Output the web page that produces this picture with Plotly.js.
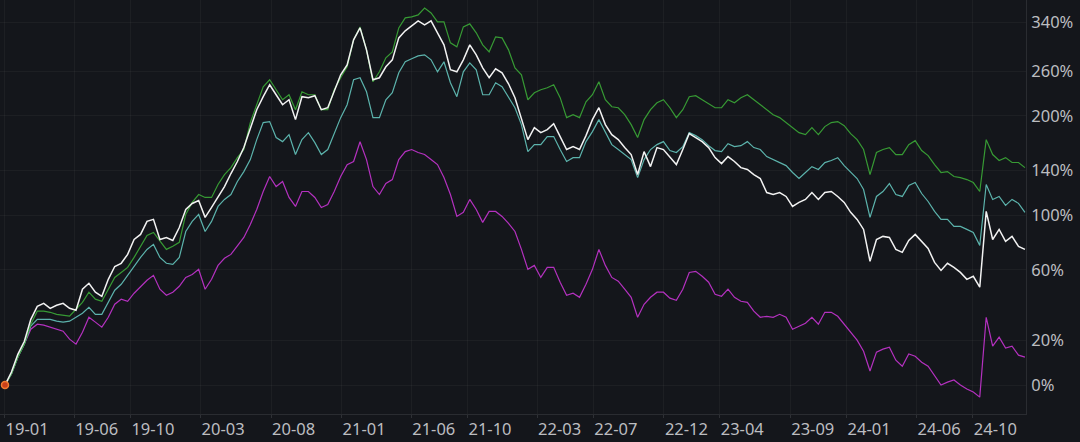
<!DOCTYPE html>
<html>
<head>
<meta charset="utf-8">
<script src="https://cdn.plot.ly/plotly-3.0.1.min.js"></script>
<style>
  html, body { margin: 0; padding: 0; background: #14161b; }
  #chart { width: 1080px; height: 442px; }
</style>
</head>
<body>
<div id="chart"></div>
<script>
// ---- data (cumulative return, %), sampled every 14 days from 2019-01-02 ----
const startDate = [2019, 0, 2];
const stepDays = 14;

const whiteSeries = [
  0, 5.5, 13.5, 19.6, 30.8, 37.9, 39.6, 36.8, 38.5, 39.6,
  36.8, 35.7, 47.9, 51.5, 46.1, 43.7, 54.0, 62.3, 64.4, 70.5,
  81.2, 85.0, 95.1, 96.7, 81.2, 82.7, 80.5, 90.3, 104.8, 109.9,
  112.5, 98.3, 106.5, 116.0, 124.9, 137.2, 149.1, 163.7, 183.8, 207.8,
  224.6, 240.8, 227.2, 214.1, 220.6, 195.6, 224.6, 223.3, 225.9, 207.8,
  210.3, 231.2, 255.0, 269.7, 309.4, 329.9, 293.0, 247.8, 250.7, 266.7,
  277.3, 312.7, 324.7, 333.4, 342.3, 335.2, 342.3, 321.3, 301.1, 262.3,
  259.3, 277.3, 301.1, 285.1, 265.2, 250.7, 263.7, 257.9, 242.2, 223.3,
  195.6, 172.4, 186.1, 180.3, 183.8, 190.8, 175.8, 161.6, 164.7, 161.6,
  176.9, 195.6, 210.3, 189.6, 178.0, 172.4, 163.7, 156.3, 136.2, 159.4,
  144.0, 163.7, 161.6, 153.1, 146.0, 161.6, 179.2, 174.7, 170.2, 163.7,
  153.1, 147.0, 154.2, 149.1, 143.0, 141.1, 136.2, 132.4, 119.5, 117.7,
  119.5, 116.0, 107.4, 110.8, 113.4, 119.5, 113.4, 119.5, 120.4, 116.0,
  110.8, 102.4, 96.7, 88.8, 65.7, 81.2, 83.5, 82.7, 74.0, 71.9,
  80.5, 85.0, 79.8, 74.7, 65.0, 59.7, 64.4, 61.7, 58.4, 54.0,
  55.9, 49.1, 103.2, 81.2, 88.8, 79.8, 83.5, 76.2, 74.0
];

const greenSeries = [
  0, 4.6, 12.1, 18.2, 28.2, 35.2, 35.2, 34.6, 33.5, 33.0,
  32.5, 36.3, 40.2, 46.1, 42.0, 40.8, 47.9, 55.2, 58.4, 61.7,
  68.4, 76.2, 84.2, 86.5, 79.8, 74.0, 76.2, 79.1, 100.7, 110.8,
  117.7, 115.1, 115.1, 126.8, 136.2, 143.0, 153.1, 161.6, 192.0, 214.1,
  238.0, 247.8, 233.9, 220.6, 227.2, 207.8, 231.2, 227.2, 227.2, 207.8,
  207.8, 233.9, 250.7, 266.7, 309.4, 331.6, 293.0, 245.0, 259.3, 280.4,
  289.8, 329.9, 347.8, 349.6, 353.3, 366.3, 356.9, 340.5, 340.5, 304.4,
  297.8, 331.6, 337.0, 321.3, 301.1, 289.8, 314.4, 312.7, 293.0, 265.2,
  255.0, 220.6, 229.9, 233.9, 236.7, 240.8, 223.3, 198.0, 201.6, 198.0,
  218.0, 227.2, 245.0, 220.6, 211.5, 210.3, 201.6, 189.6, 174.7, 195.6,
  207.8, 216.7, 220.6, 210.3, 198.0, 207.8, 224.6, 225.9, 220.6, 215.4,
  210.3, 210.3, 220.6, 216.7, 223.3, 227.2, 220.6, 214.1, 207.8, 201.6,
  198.0, 192.0, 186.1, 180.3, 178.0, 186.1, 178.0, 187.3, 192.0, 193.2,
  188.4, 179.2, 172.4, 161.6, 136.2, 158.4, 161.6, 163.7, 156.3, 156.3,
  166.9, 171.3, 160.5, 155.2, 146.0, 138.2, 139.1, 134.3, 133.3, 131.4,
  128.6, 120.4, 172.4, 156.3, 150.1, 153.1, 148.1, 148.1, 143.0
];

const tealSeries = [
  0, 4.6, 12.1, 18.2, 27.2, 30.8, 30.8, 30.8, 29.8, 29.3,
  29.8, 31.9, 34.1, 37.4, 33.5, 33.5, 40.2, 47.3, 50.9, 56.5,
  63.0, 68.4, 74.0, 77.6, 68.4, 64.4, 63.7, 68.4, 87.2, 95.1,
  100.7, 87.2, 95.1, 107.4, 113.4, 117.7, 129.6, 139.1, 151.1, 172.4,
  192.0, 193.2, 174.7, 170.2, 178.0, 156.3, 172.4, 180.3, 169.1, 156.3,
  161.6, 180.3, 198.0, 214.1, 247.8, 250.7, 231.2, 198.0, 198.0, 220.6,
  229.9, 257.9, 274.3, 278.9, 283.5, 285.1, 277.3, 259.3, 274.3, 243.6,
  224.6, 259.3, 272.7, 262.3, 227.2, 227.2, 243.6, 238.0, 224.6, 210.3,
  189.6, 159.4, 166.9, 166.9, 175.8, 175.8, 161.6, 149.1, 153.1, 153.1,
  170.2, 181.5, 195.6, 180.3, 166.9, 161.6, 156.3, 151.1, 133.3, 151.1,
  161.6, 166.9, 170.2, 160.5, 158.4, 164.7, 180.3, 176.9, 172.4, 165.8,
  160.5, 159.4, 168.0, 164.7, 165.8, 170.2, 163.7, 161.6, 154.2, 151.1,
  148.0, 145.0, 138.2, 132.4, 138.2, 144.0, 141.1, 148.0, 150.1, 153.1,
  145.0, 139.1, 132.4, 122.2, 98.3, 116.0, 120.4, 127.7, 117.7, 116.0,
  125.8, 128.6, 118.6, 111.6, 103.2, 96.7, 96.7, 91.1, 91.1, 88.8,
  86.5, 76.9, 126.8, 113.4, 116.0, 108.2, 113.4, 110.0, 102.4
];

const magentaSeries = [
  0, 4.6, 12.1, 18.2, 25.6, 28.2, 27.7, 26.7, 25.6, 24.6,
  20.6, 18.2, 24.1, 31.9, 29.3, 26.7, 31.9, 39.1, 42.0, 40.8,
  45.5, 49.1, 53.4, 56.5, 47.9, 44.3, 46.1, 49.7, 55.2, 57.1,
  60.4, 47.9, 54.0, 63.0, 67.8, 70.5, 76.2, 82.7, 92.7, 104.8,
  120.4, 134.3, 124.9, 129.6, 115.1, 107.4, 120.4, 120.4, 115.1, 106.5,
  109.0, 120.4, 134.3, 146.0, 149.1, 170.0, 151.1, 124.9, 117.7, 127.7,
  131.4, 151.1, 159.4, 161.6, 158.4, 156.3, 151.1, 146.0, 133.3, 117.7,
  99.1, 102.4, 113.4, 104.8, 94.3, 103.2, 103.2, 99.1, 93.5, 87.2,
  74.0, 60.4, 63.0, 55.2, 61.7, 61.7, 52.2, 44.3, 45.5, 43.1,
  50.9, 60.4, 74.0, 63.0, 55.2, 52.8, 47.9, 43.1, 31.9, 39.1,
  43.1, 46.1, 46.1, 42.6, 41.4, 47.9, 58.4, 59.1, 55.9, 52.2,
  44.9, 43.7, 47.9, 43.1, 40.8, 40.2, 35.2, 31.9, 32.4, 31.9,
  33.5, 31.9, 25.6, 27.2, 28.7, 31.9, 28.2, 34.6, 34.6, 32.4,
  28.2, 23.6, 20.1, 14.8, 5.9, 14.4, 15.8, 16.7, 10.7, 8.0,
  13.5, 12.5, 9.8, 8.0, 3.7, 0, 1.2, 2.1, 0, -1.6,
  -2.8, -4.8, 31.9, 17.2, 21.6, 16.3, 17.2, 13.0, 12.1
];

const xTickDates = ['2019-01-01','2019-06-01','2019-10-01','2020-03-01','2020-08-01','2021-01-01',
  '2021-06-01','2021-10-01','2022-03-01','2022-07-01','2022-12-01','2023-04-01','2023-09-01',
  '2024-01-01','2024-06-01','2024-10-01'];
const xTickLabels = ['19-01','19-06','19-10','20-03','20-08','21-01','21-06','21-10','22-03',
  '22-07','22-12','23-04','23-09','24-01','24-06','24-10'];
const yTickPct = [0, 20, 60, 100, 140, 200, 260, 340];
const yTickLabels = ['0%','20%','60%','100%','140%','200%','260%','340%'];

// ---- build ----
function makeDates(n) {
  const t0 = Date.UTC(startDate[0], startDate[1], startDate[2]);
  const out = [];
  for (let i = 0; i < n; i++) {
    out.push(new Date(t0 + i * stepDays * 86400000).toISOString().slice(0, 10));
  }
  return out;
}
const dates = makeDates(whiteSeries.length);
const toFactor = arr => arr.map(p => 1 + p / 100);

function lineTrace(vals, color, width) {
  return {
    type: 'scatter', mode: 'lines', x: dates, y: toFactor(vals),
    line: { color: color, width: width, shape: 'linear' },
    hoverinfo: 'skip', showlegend: false
  };
}

const traces = [
  lineTrace(magentaSeries, '#b431bf', 1.2),
  lineTrace(tealSeries, '#5cb3ac', 1.2),
  lineTrace(greenSeries, '#379a34', 1.2),
  lineTrace(whiteSeries, '#f2f2f2', 1.5),
  {
    type: 'scatter', mode: 'markers', x: [dates[0]], y: [1 + magentaSeries[0] / 100],
    marker: { symbol: 'circle', size: 7, color: '#c8401a', line: { width: 1.5, color: '#f07a30' } },
    hoverinfo: 'skip', showlegend: false
  }
];

const tickFont = { family: '"Noto Sans", "DejaVu Sans", sans-serif', size: 16.5, color: '#bcbdc0' };

const layout = {
  width: 1080, height: 442,
  paper_bgcolor: '#14161b', plot_bgcolor: '#14161b',
  margin: { l: 0, r: 54, t: 0, b: 28, pad: 0 },
  showlegend: false,
  xaxis: {
    type: 'date',
    range: ['2018-12-22 04:00', '2025-01-24 07:00'],
    tickmode: 'array', tickvals: xTickDates, ticktext: xTickLabels,
    ticklabelposition: 'outside right',
    tickfont: tickFont,
    ticks: 'outside', ticklen: 3, tickcolor: '#2e3035', tickwidth: 1,
    showgrid: true, gridcolor: 'rgba(255,255,255,0.04)', gridwidth: 1,
    showline: true, linecolor: '#2a2c31', linewidth: 1,
    zeroline: false, fixedrange: true
  },
  yaxis: {
    type: 'log', side: 'right',
    range: [-0.0513, 0.6828],
    tickmode: 'array', tickvals: yTickPct.map(p => 1 + p / 100), ticktext: yTickLabels,
    tickfont: tickFont,
    ticks: '', ticklabelstandoff: 1,
    showgrid: true, gridcolor: 'rgba(255,255,255,0.04)', gridwidth: 1,
    showline: true, linecolor: '#2a2c31', linewidth: 1,
    zeroline: false, fixedrange: true
  }
};

Plotly.newPlot('chart', traces, layout, { displayModeBar: false, staticPlot: true });
</script>
</body>
</html>
